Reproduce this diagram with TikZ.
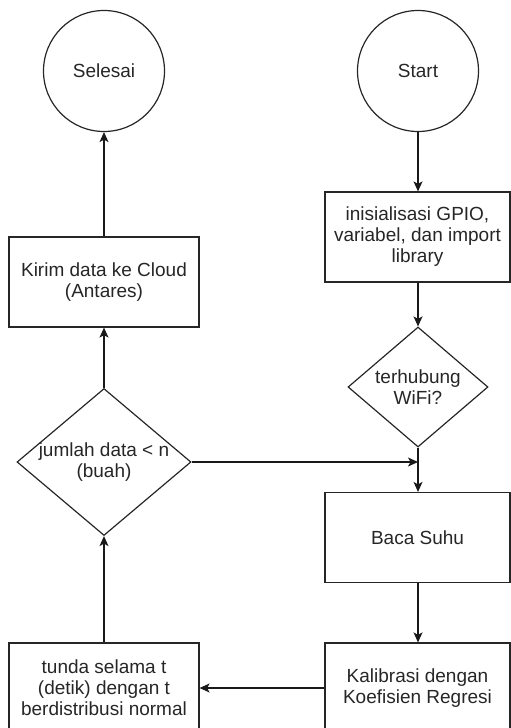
\documentclass[tikz,border=0pt]{standalone}
\usepackage{fontspec}
\setmainfont{Liberation Sans}
\usetikzlibrary{shapes.geometric,arrows.meta}
\begin{document}
\begin{tikzpicture}[x=1pt,y=-1pt,
  every node/.style={font=\fontsize{19}{21}\selectfont, text=black!85},
  proc/.style={draw=black!85, line width=1.2pt, rectangle, inner sep=0pt, align=center},
  lbox/.style={proc, minimum width=190pt, minimum height=90pt},
  rbox/.style={proc, minimum width=185pt, minimum height=90pt},
  term/.style={draw=black!85, line width=1.2pt, circle, minimum size=121pt, inner sep=0pt},
  decide/.style={draw=black!85, line width=1.2pt, diamond, inner sep=0pt},
  flow/.style={draw=black!90, line width=1.3pt, -{Stealth[length=10pt,width=9pt,inset=2.5pt]}}
]
\useasboundingbox (0,0) rectangle (511,728);
\clip (0,0) rectangle (511,728);
\node[term] (selesai) at (104,71) {Selesai};
\node[term] (start) at (418,71) {Start};
\node[rbox] (init) at (417.5,237) {inisialisasi GPIO,\\variabel, dan import\\library};
\node[decide, minimum width=140pt, minimum height=120pt,
  label={[align=center]center:terhubung\\WiFi?}] (wifi) at (418,387) {};
\node[rbox] (baca) at (417.5,537.5) {Baca Suhu};
\node[rbox] (kal) at (417.5,688) {Kalibrasi dengan\\Koefisien Regresi};
\node[lbox] (tunda) at (104,688) {tunda selama t\\(detik) dengan t\\berdistribusi normal};
\node[decide, minimum width=174pt, minimum height=147pt,
  label={[align=center]center:jumlah data < n\\(buah)}] (jumlah) at (104,462) {};
\node[lbox] (kirim) at (104,282) {Kirim data ke Cloud\\(Antares)};
\coordinate (join) at (jumlah.east -| wifi.south);
\draw[flow] (start) -- (start.south |- init.north);
\draw[flow] (init.south -| wifi.north) -- (wifi.north);
\draw[flow] (wifi.south) -- (wifi.south |- baca.north);
\draw[flow] (jumlah.east) -- (join);
\draw[flow] (baca.south -| wifi.south) -- (wifi.south |- kal.north);
\draw[flow] (kal.west) -- (tunda.east);
\draw[flow] (tunda.north) -- (jumlah.south);
\draw[flow] (jumlah.north) -- (kirim.south);
\draw[flow] (kirim.north) -- (selesai.south);
\end{tikzpicture}
\end{document}
